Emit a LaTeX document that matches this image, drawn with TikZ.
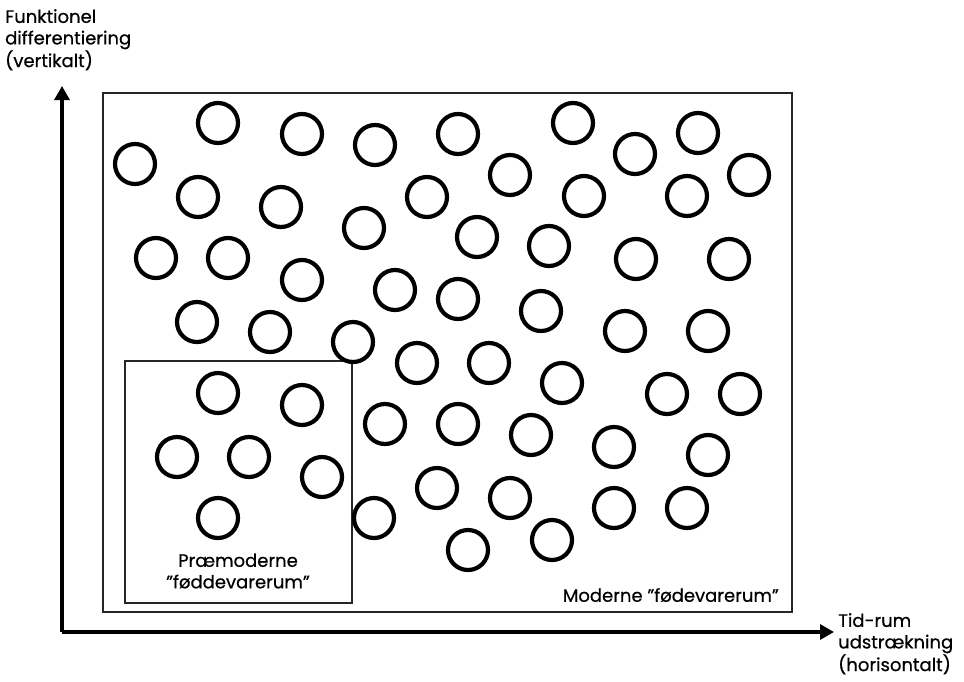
\documentclass[tikz,border=0pt]{standalone}
\usepackage{fontspec}
\setmainfont{Poppins}
\newfontfamily\lblfont{Poppins}[FakeBold=0.6]
\usetikzlibrary{arrows.meta}
\begin{document}
\begin{tikzpicture}[x=1pt,y=-1pt,
  ring/.style={draw=black,line width=4.2pt,circle,minimum size=40pt,inner sep=0pt},
  frame/.style={draw=black!85,line width=1.4pt},
  axis/.style={line width=3.2pt,-{Triangle[length=14pt,width=15pt]}},
  lbl/.style={font=\lblfont\fontsize{18}{21.5}\selectfont,align=left,inner sep=0pt}]
\useasboundingbox[fill=white] (0,0) rectangle (964,681);
% frames
\draw[frame] (103,93) rectangle (792,612);
\draw[frame] (125,361) rectangle (352,603);
% axes
\coordinate (o) at (62,632);
\coordinate (ytop) at (62,86);
\coordinate (xend) at (834,632);
\draw[axis] (o) -- (ytop);
\draw[axis] (o) -- (xend);
% circles
\foreach \x/\y [count=\i] in {
135/164, 218/123, 302/134, 375/145, 458/134, 573/123, 698/133, 635/154,
510/175, 749/175, 198/197, 281/207, 427/197, 584/196, 687/196, 364/228,
477/237, 156/258, 228/258, 549/246, 636/259, 729/259, 302/280, 395/290,
458/299, 541/311, 197/322, 270/332, 625/331, 708/331, 353/342, 417/363,
489/363, 562/383, 218/393, 302/405, 667/394, 740/394, 385/424, 458/424,
531/435, 614/447, 177/457, 249/457, 708/455, 322/477, 437/488, 510/498,
614/508, 687/508, 374/518, 218/518, 468/550, 552/540}
  \node[ring] (c\i) at (\x,\y) {};
% labels
\node[lbl,anchor=north west] (ylab) at (5,9) {Funktionel\\differentiering\\(vertikalt)};
\node[lbl,anchor=north west] (xlab) at (838,613) {Tid-rum\\udstrækning\\(horisontalt)};
\node[lbl,align=center] (pre) at (238,571) {Præmoderne\\”føddevarerum”};
\node[lbl,anchor=east] (mod) at (779,595) {Moderne ”fødevarerum”};
\end{tikzpicture}
\end{document}
